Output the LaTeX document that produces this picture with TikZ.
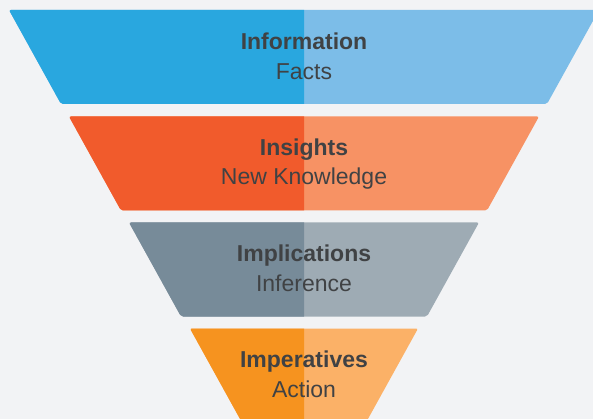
\documentclass[tikz,border=0pt]{standalone}
\usepackage{fontspec}
\setmainfont{Liberation Sans}
\definecolor{bg}{HTML}{F2F3F5}
\definecolor{txt}{HTML}{404244}
\definecolor{blueD}{HTML}{29A7DF}
\definecolor{blueL}{HTML}{7CBDE8}
\definecolor{redD}{HTML}{F15B2C}
\definecolor{redL}{HTML}{F79264}
\definecolor{grayD}{HTML}{778B99}
\definecolor{grayL}{HTML}{9EABB4}
\definecolor{orangeD}{HTML}{F6931F}
\definecolor{orangeL}{HTML}{FBB167}
% one funnel tier: #1 top y, #2 half width at top, #3 dark fill, #4 light fill
\newcommand\funneltier[4]{%
  \fill[#4,tierpath] (304-#2,#1) -- (304+#2,#1) -- (304+#2-52,#1+94) -- (304-#2+52,#1+94) -- cycle;
  \begin{scope}
    \clip (0,0) rectangle (304,419);
    \fill[#3,tierpath] (304-#2,#1) -- (304+#2,#1) -- (304+#2-52,#1+94) -- (304-#2+52,#1+94) -- cycle;
  \end{scope}}
\begin{document}
\begin{tikzpicture}[x=1pt,y=-1pt,
  tierpath/.style={rounded corners=2pt},
  headline/.style={font=\fontsize{23}{23}\selectfont\bfseries, text=txt, anchor=base, inner sep=0pt},
  subline/.style={font=\fontsize{23}{23}\selectfont, text=txt, anchor=base, inner sep=0pt}]
  \useasboundingbox (0,0) rectangle (593,419);
  \fill[bg] (0,0) rectangle (593,419);
  \clip (0,0) rectangle (593,419);
  % tiers
  \funneltier{10}{295}{blueD}{blueL}
  \funneltier{116.5}{235}{redD}{redL}
  \funneltier{222.5}{175}{grayD}{grayL}
  \funneltier{328.5}{114}{orangeD}{orangeL}
  % labels
  \node[headline] (t1) at (304,49.5) {Information};
  \node[subline]  (s1) at (304,79.5) {Facts};
  \node[headline] (t2) at (304,155.5) {Insights};
  \node[subline]  (s2) at (304,185) {New Knowledge};
  \node[headline] (t3) at (304,261.5) {Implications};
  \node[subline]  (s3) at (304,291) {Inference};
  \node[headline] (t4) at (304,367.5) {Imperatives};
  \node[subline]  (s4) at (304,397) {Action};
\end{tikzpicture}
\end{document}
